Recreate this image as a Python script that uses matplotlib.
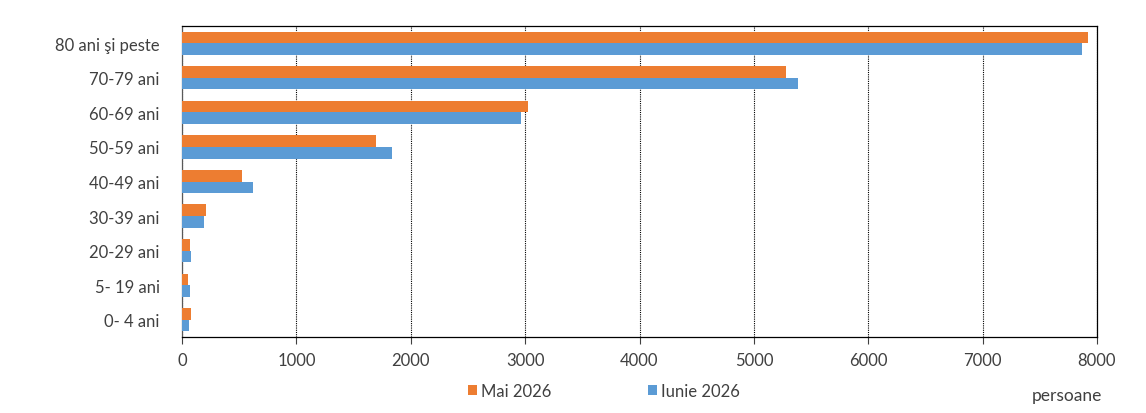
import matplotlib
matplotlib.use('Agg')
import matplotlib.pyplot as plt
import numpy as np

categories = ['80 ani şi peste', '70-79 ani', '60-69 ani', '50-59 ani', '40-49 ani',
              '30-39 ani', '20-29 ani', '5- 19 ani', '0- 4 ani']
mai_2026 = [7920, 5283, 3026, 1700, 524, 210, 73, 50, 79]
iunie_2026 = [7873, 5382, 2962, 1840, 623, 192, 81, 70, 58]
xticks = [0, 1000, 2000, 3000, 4000, 5000, 6000, 7000, 8000]

plt.rcParams['font.family'] = ['Lato', 'DejaVu Sans']

fig = plt.figure(figsize=(11.46, 4.14), dpi=100)
ax = fig.add_axes([182 / 1146, 1 - 338 / 414, (1097 - 182) / 1146, (338 - 27) / 414])

y = np.arange(len(categories))[::-1]
h = 0.335
ax.barh(y + h / 2, mai_2026, height=h, color='#ED7D31', label='Mai 2026', zorder=3)
ax.barh(y - h / 2, iunie_2026, height=h, color='#5B9BD5', label='Iunie 2026', zorder=3)

ax.set_xlim(0, 8000)
ax.set_ylim(-0.5, len(categories) - 0.5)
ax.set_xticks(xticks)
ax.set_xticklabels([str(t) for t in xticks], fontsize=12, color='#404040')
ax.set_yticks(y)
ax.set_yticklabels(categories, fontsize=12, color='#404040')
ax.tick_params(axis='y', length=0, pad=16)
ax.tick_params(axis='x', length=5, direction='out', pad=6, color='#404040')

ax.grid(axis='x', color='black', linestyle=(0, (1, 1)), linewidth=0.8, zorder=0)
for s in ax.spines.values():
    s.set_color('black')
    s.set_linewidth(0.9)
ax.spines['left'].set_color('#595959')

fig.legend(loc='center', bbox_to_anchor=(0.527, 0.053), ncol=2, frameon=False,
           fontsize=12, handlelength=0.55, handleheight=0.55, handletextpad=0.25,
           columnspacing=5.8, labelcolor='#404040')
fig.text(1067 / 1146, 1 - 396 / 414, 'persoane', fontsize=12.5, color='#404040',
         ha='center', va='center')

plt.savefig('out.png', dpi=100)
plt.close()
